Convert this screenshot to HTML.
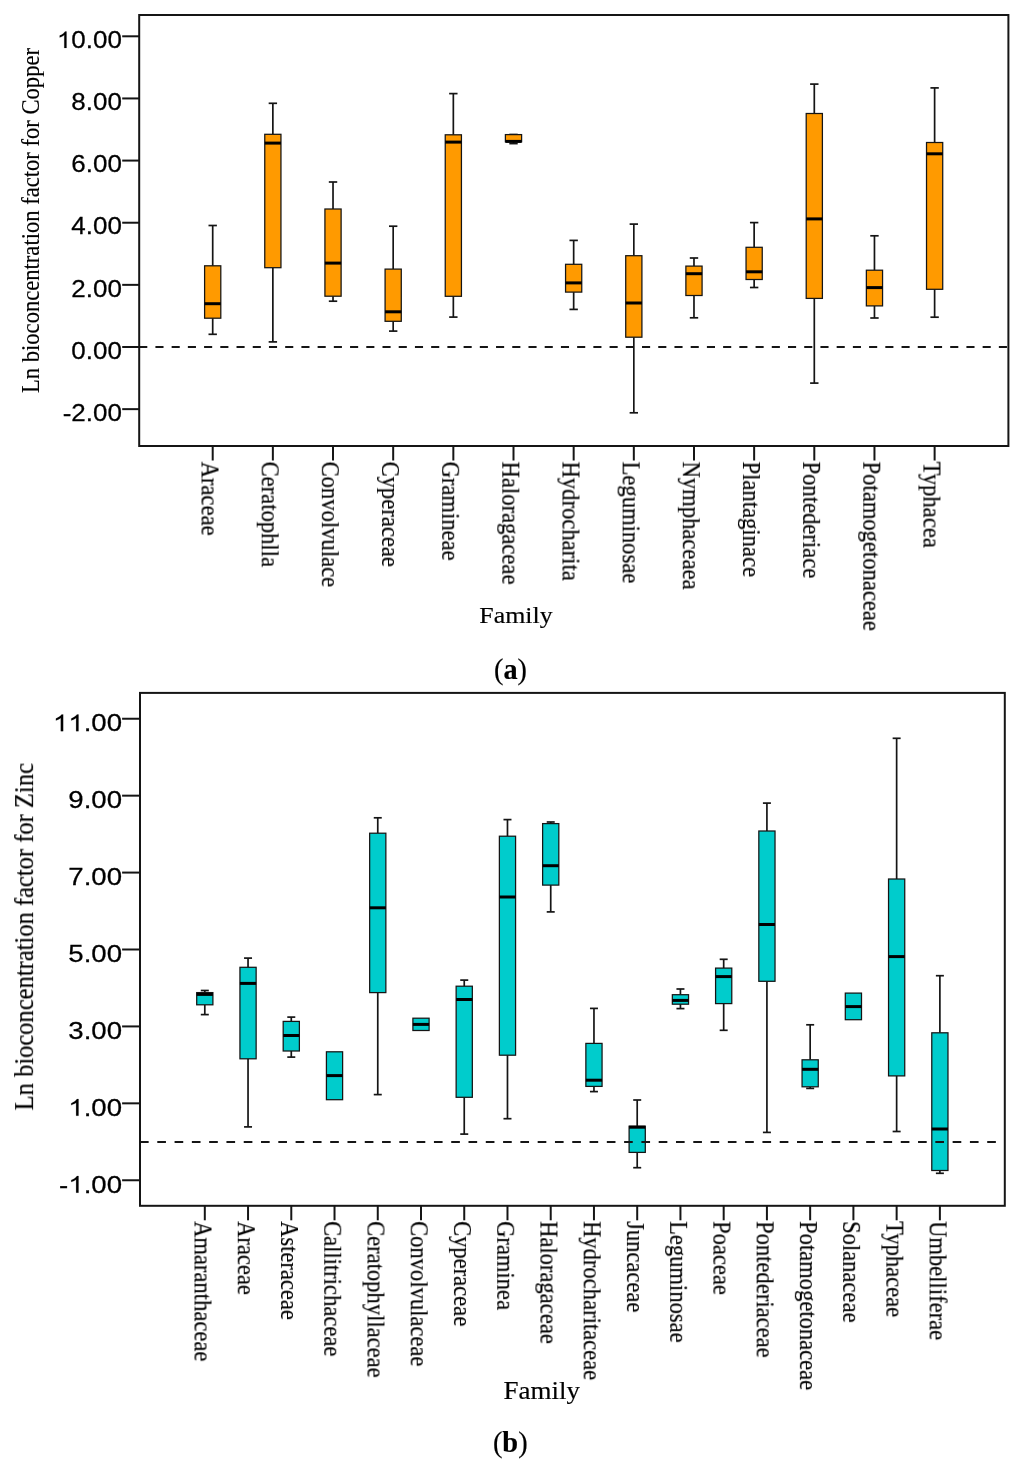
<!DOCTYPE html>
<html><head><meta charset="utf-8"><title>Box plots</title>
<style>
html,body{margin:0;padding:0;background:#fff;}
svg{display:block;}
text{will-change:transform;}
.sn{font-family:"Liberation Sans",sans-serif;font-kerning:none;fill:#000;stroke:#000;stroke-width:0.25;}
.sf{font-family:"Liberation Serif",serif;fill:#000;stroke:#000;stroke-width:0.18;}
.w{stroke:#151515;stroke-width:1.7;fill:none;}
.bx{stroke:#151515;stroke-width:1.25;}
.md{stroke:#000;stroke-width:3;}
.fr{stroke:#151515;stroke-width:2;fill:none;}
path.one{fill:#000;stroke:#000;stroke-width:12;}
.tk{stroke:#151515;stroke-width:2;}
.ds{stroke:#151515;stroke-width:2;}
</style></head>
<body>
<svg width="1024" height="1463" viewBox="0 0 1024 1463">
<rect width="1024" height="1463" fill="#fff"/>
<line x1="212.70" y1="225.50" x2="212.70" y2="265.80" class="w"/>
<line x1="208.50" y1="225.50" x2="216.90" y2="225.50" class="w"/>
<line x1="212.70" y1="318.20" x2="212.70" y2="334.30" class="w"/>
<line x1="208.50" y1="334.30" x2="216.90" y2="334.30" class="w"/>
<rect x="204.60" y="265.80" width="16.20" height="52.40" fill="#FF9A00" class="bx"/>
<line x1="204.60" y1="303.70" x2="220.80" y2="303.70" class="md"/>
<line x1="272.86" y1="103.30" x2="272.86" y2="134.30" class="w"/>
<line x1="268.66" y1="103.30" x2="277.06" y2="103.30" class="w"/>
<line x1="272.86" y1="267.70" x2="272.86" y2="341.90" class="w"/>
<line x1="268.66" y1="341.90" x2="277.06" y2="341.90" class="w"/>
<rect x="264.76" y="134.30" width="16.20" height="133.40" fill="#FF9A00" class="bx"/>
<line x1="264.76" y1="143.10" x2="280.96" y2="143.10" class="md"/>
<line x1="333.02" y1="182.00" x2="333.02" y2="209.00" class="w"/>
<line x1="328.82" y1="182.00" x2="337.22" y2="182.00" class="w"/>
<line x1="333.02" y1="296.20" x2="333.02" y2="301.20" class="w"/>
<line x1="328.82" y1="301.20" x2="337.22" y2="301.20" class="w"/>
<rect x="324.92" y="209.00" width="16.20" height="87.20" fill="#FF9A00" class="bx"/>
<line x1="324.92" y1="263.10" x2="341.12" y2="263.10" class="md"/>
<line x1="393.18" y1="226.20" x2="393.18" y2="269.10" class="w"/>
<line x1="388.98" y1="226.20" x2="397.38" y2="226.20" class="w"/>
<line x1="393.18" y1="321.30" x2="393.18" y2="331.10" class="w"/>
<line x1="388.98" y1="331.10" x2="397.38" y2="331.10" class="w"/>
<rect x="385.08" y="269.10" width="16.20" height="52.20" fill="#FF9A00" class="bx"/>
<line x1="385.08" y1="311.80" x2="401.28" y2="311.80" class="md"/>
<line x1="453.34" y1="93.60" x2="453.34" y2="134.80" class="w"/>
<line x1="449.14" y1="93.60" x2="457.54" y2="93.60" class="w"/>
<line x1="453.34" y1="296.30" x2="453.34" y2="317.10" class="w"/>
<line x1="449.14" y1="317.10" x2="457.54" y2="317.10" class="w"/>
<rect x="445.24" y="134.80" width="16.20" height="161.50" fill="#FF9A00" class="bx"/>
<line x1="445.24" y1="142.10" x2="461.44" y2="142.10" class="md"/>
<line x1="513.50" y1="134.50" x2="513.50" y2="134.60" class="w"/>
<line x1="509.30" y1="134.50" x2="517.70" y2="134.50" class="w"/>
<line x1="513.50" y1="141.80" x2="513.50" y2="143.60" class="w"/>
<line x1="509.30" y1="143.60" x2="517.70" y2="143.60" class="w"/>
<rect x="505.40" y="134.60" width="16.20" height="7.20" fill="#FF9A00" class="bx"/>
<line x1="505.40" y1="141.40" x2="521.60" y2="141.40" class="md"/>
<line x1="573.66" y1="240.40" x2="573.66" y2="264.30" class="w"/>
<line x1="569.46" y1="240.40" x2="577.86" y2="240.40" class="w"/>
<line x1="573.66" y1="292.10" x2="573.66" y2="309.40" class="w"/>
<line x1="569.46" y1="309.40" x2="577.86" y2="309.40" class="w"/>
<rect x="565.56" y="264.30" width="16.20" height="27.80" fill="#FF9A00" class="bx"/>
<line x1="565.56" y1="282.90" x2="581.76" y2="282.90" class="md"/>
<line x1="633.82" y1="224.10" x2="633.82" y2="255.70" class="w"/>
<line x1="629.62" y1="224.10" x2="638.02" y2="224.10" class="w"/>
<line x1="633.82" y1="337.20" x2="633.82" y2="412.80" class="w"/>
<line x1="629.62" y1="412.80" x2="638.02" y2="412.80" class="w"/>
<rect x="625.72" y="255.70" width="16.20" height="81.50" fill="#FF9A00" class="bx"/>
<line x1="625.72" y1="303.00" x2="641.92" y2="303.00" class="md"/>
<line x1="693.98" y1="258.00" x2="693.98" y2="266.10" class="w"/>
<line x1="689.78" y1="258.00" x2="698.18" y2="258.00" class="w"/>
<line x1="693.98" y1="295.50" x2="693.98" y2="317.80" class="w"/>
<line x1="689.78" y1="317.80" x2="698.18" y2="317.80" class="w"/>
<rect x="685.88" y="266.10" width="16.20" height="29.40" fill="#FF9A00" class="bx"/>
<line x1="685.88" y1="273.70" x2="702.08" y2="273.70" class="md"/>
<line x1="754.14" y1="222.60" x2="754.14" y2="247.30" class="w"/>
<line x1="749.94" y1="222.60" x2="758.34" y2="222.60" class="w"/>
<line x1="754.14" y1="279.50" x2="754.14" y2="287.50" class="w"/>
<line x1="749.94" y1="287.50" x2="758.34" y2="287.50" class="w"/>
<rect x="746.04" y="247.30" width="16.20" height="32.20" fill="#FF9A00" class="bx"/>
<line x1="746.04" y1="271.80" x2="762.24" y2="271.80" class="md"/>
<line x1="814.30" y1="84.10" x2="814.30" y2="113.50" class="w"/>
<line x1="810.10" y1="84.10" x2="818.50" y2="84.10" class="w"/>
<line x1="814.30" y1="298.40" x2="814.30" y2="383.10" class="w"/>
<line x1="810.10" y1="383.10" x2="818.50" y2="383.10" class="w"/>
<rect x="806.20" y="113.50" width="16.20" height="184.90" fill="#FF9A00" class="bx"/>
<line x1="806.20" y1="218.90" x2="822.40" y2="218.90" class="md"/>
<line x1="874.46" y1="235.80" x2="874.46" y2="270.20" class="w"/>
<line x1="870.26" y1="235.80" x2="878.66" y2="235.80" class="w"/>
<line x1="874.46" y1="305.90" x2="874.46" y2="318.00" class="w"/>
<line x1="870.26" y1="318.00" x2="878.66" y2="318.00" class="w"/>
<rect x="866.36" y="270.20" width="16.20" height="35.70" fill="#FF9A00" class="bx"/>
<line x1="866.36" y1="287.60" x2="882.56" y2="287.60" class="md"/>
<line x1="934.62" y1="87.90" x2="934.62" y2="142.50" class="w"/>
<line x1="930.42" y1="87.90" x2="938.82" y2="87.90" class="w"/>
<line x1="934.62" y1="289.30" x2="934.62" y2="317.20" class="w"/>
<line x1="930.42" y1="317.20" x2="938.82" y2="317.20" class="w"/>
<rect x="926.52" y="142.50" width="16.20" height="146.80" fill="#FF9A00" class="bx"/>
<line x1="926.52" y1="153.80" x2="942.72" y2="153.80" class="md"/>
<line x1="139.20" y1="346.90" x2="1008.40" y2="346.90" class="ds" stroke-dasharray="8.1 8.12"/>
<rect x="139.20" y="15.00" width="869.20" height="431.00" class="fr"/>
<line x1="122.20" y1="36.30" x2="139.20" y2="36.30" class="tk"/>
<text class="sn" text-anchor="end" font-size="23" transform="translate(121.90,48.00) scale(1.13,1)"> 0.00</text>
<path class="one" d="M763,0 L583,0 L583,1147 Q518,1085 412,1023 Q306,961 222,930 L222,1104 Q373,1175 486,1276 Q599,1377 646,1472 L763,1472 Z" transform="matrix(0.01269,0,0,-0.01123,56.86,48.00)"/>
<line x1="122.20" y1="98.44" x2="139.20" y2="98.44" class="tk"/>
<text class="sn" text-anchor="end" font-size="23" transform="translate(121.90,110.14) scale(1.13,1)">8.00</text>
<line x1="122.20" y1="160.58" x2="139.20" y2="160.58" class="tk"/>
<text class="sn" text-anchor="end" font-size="23" transform="translate(121.90,172.28) scale(1.13,1)">6.00</text>
<line x1="122.20" y1="222.72" x2="139.20" y2="222.72" class="tk"/>
<text class="sn" text-anchor="end" font-size="23" transform="translate(121.90,234.42) scale(1.13,1)">4.00</text>
<line x1="122.20" y1="284.86" x2="139.20" y2="284.86" class="tk"/>
<text class="sn" text-anchor="end" font-size="23" transform="translate(121.90,296.56) scale(1.13,1)">2.00</text>
<line x1="122.20" y1="347.00" x2="139.20" y2="347.00" class="tk"/>
<text class="sn" text-anchor="end" font-size="23" transform="translate(121.90,358.70) scale(1.13,1)">0.00</text>
<line x1="122.20" y1="409.14" x2="139.20" y2="409.14" class="tk"/>
<text class="sn" text-anchor="end" font-size="23" transform="translate(121.90,420.84) scale(1.13,1)">-2.00</text>
<line x1="212.70" y1="446.00" x2="212.70" y2="460.50" class="tk"/>
<text class="sf" font-size="22.6" transform="translate(201.80,461.60) scale(1.13,1) rotate(90)">Araceae</text>
<line x1="272.86" y1="446.00" x2="272.86" y2="460.50" class="tk"/>
<text class="sf" font-size="22.6" transform="translate(261.96,461.60) scale(1.13,1) rotate(90)">Ceratophlla</text>
<line x1="333.02" y1="446.00" x2="333.02" y2="460.50" class="tk"/>
<text class="sf" font-size="22.6" transform="translate(322.12,461.60) scale(1.13,1) rotate(90)">Convolvulace</text>
<line x1="393.18" y1="446.00" x2="393.18" y2="460.50" class="tk"/>
<text class="sf" font-size="22.6" transform="translate(382.28,461.60) scale(1.13,1) rotate(90)">Cyperaceae</text>
<line x1="453.34" y1="446.00" x2="453.34" y2="460.50" class="tk"/>
<text class="sf" font-size="22.6" transform="translate(442.44,461.60) scale(1.13,1) rotate(90)">Gramineae</text>
<line x1="513.50" y1="446.00" x2="513.50" y2="460.50" class="tk"/>
<text class="sf" font-size="22.6" transform="translate(502.60,461.60) scale(1.13,1) rotate(90)">Haloragaceae</text>
<line x1="573.66" y1="446.00" x2="573.66" y2="460.50" class="tk"/>
<text class="sf" font-size="22.6" transform="translate(562.76,461.60) scale(1.13,1) rotate(90)">Hydrocharita</text>
<line x1="633.82" y1="446.00" x2="633.82" y2="460.50" class="tk"/>
<text class="sf" font-size="22.6" transform="translate(622.92,461.60) scale(1.13,1) rotate(90)">Leguminosae</text>
<line x1="693.98" y1="446.00" x2="693.98" y2="460.50" class="tk"/>
<text class="sf" font-size="22.6" transform="translate(683.08,461.60) scale(1.13,1) rotate(90)">Nymphaceaea</text>
<line x1="754.14" y1="446.00" x2="754.14" y2="460.50" class="tk"/>
<text class="sf" font-size="22.6" transform="translate(743.24,461.60) scale(1.13,1) rotate(90)">Plantaginace</text>
<line x1="814.30" y1="446.00" x2="814.30" y2="460.50" class="tk"/>
<text class="sf" font-size="22.6" transform="translate(803.40,461.60) scale(1.13,1) rotate(90)">Pontederiace</text>
<line x1="874.46" y1="446.00" x2="874.46" y2="460.50" class="tk"/>
<text class="sf" font-size="22.6" transform="translate(863.56,461.60) scale(1.13,1) rotate(90)">Potamogetonaceae</text>
<line x1="934.62" y1="446.00" x2="934.62" y2="460.50" class="tk"/>
<text class="sf" font-size="22.6" transform="translate(923.72,461.60) scale(1.13,1) rotate(90)">Typhacea</text>
<text class="sf" font-size="22.6" transform="translate(39.30,393.00) scale(1.15,1) rotate(-90)">Ln bioconcentration factor for Copper</text>
<text class="sf" font-size="22.7" transform="translate(479.30,622.90) scale(1.14,1)">Family</text>
<line x1="204.80" y1="990.50" x2="204.80" y2="992.60" class="w"/>
<line x1="200.80" y1="990.50" x2="208.80" y2="990.50" class="w"/>
<line x1="204.80" y1="1004.80" x2="204.80" y2="1014.60" class="w"/>
<line x1="200.80" y1="1014.60" x2="208.80" y2="1014.60" class="w"/>
<rect x="196.70" y="992.60" width="16.20" height="12.20" fill="#00CCCC" class="bx"/>
<line x1="196.70" y1="994.40" x2="212.90" y2="994.40" class="md"/>
<line x1="248.04" y1="958.10" x2="248.04" y2="967.30" class="w"/>
<line x1="244.04" y1="958.10" x2="252.04" y2="958.10" class="w"/>
<line x1="248.04" y1="1058.80" x2="248.04" y2="1126.90" class="w"/>
<line x1="244.04" y1="1126.90" x2="252.04" y2="1126.90" class="w"/>
<rect x="239.94" y="967.30" width="16.20" height="91.50" fill="#00CCCC" class="bx"/>
<line x1="239.94" y1="983.40" x2="256.14" y2="983.40" class="md"/>
<line x1="291.28" y1="1017.10" x2="291.28" y2="1021.40" class="w"/>
<line x1="287.28" y1="1017.10" x2="295.28" y2="1017.10" class="w"/>
<line x1="291.28" y1="1051.00" x2="291.28" y2="1057.10" class="w"/>
<line x1="287.28" y1="1057.10" x2="295.28" y2="1057.10" class="w"/>
<rect x="283.18" y="1021.40" width="16.20" height="29.60" fill="#00CCCC" class="bx"/>
<line x1="283.18" y1="1035.50" x2="299.38" y2="1035.50" class="md"/>
<rect x="326.42" y="1051.80" width="16.20" height="47.90" fill="#00CCCC" class="bx"/>
<line x1="326.42" y1="1075.60" x2="342.62" y2="1075.60" class="md"/>
<line x1="377.76" y1="817.80" x2="377.76" y2="833.20" class="w"/>
<line x1="373.76" y1="817.80" x2="381.76" y2="817.80" class="w"/>
<line x1="377.76" y1="992.60" x2="377.76" y2="1094.60" class="w"/>
<line x1="373.76" y1="1094.60" x2="381.76" y2="1094.60" class="w"/>
<rect x="369.66" y="833.20" width="16.20" height="159.40" fill="#00CCCC" class="bx"/>
<line x1="369.66" y1="907.80" x2="385.86" y2="907.80" class="md"/>
<rect x="412.90" y="1018.20" width="16.20" height="12.30" fill="#00CCCC" class="bx"/>
<line x1="412.90" y1="1024.40" x2="429.10" y2="1024.40" class="md"/>
<line x1="464.24" y1="980.10" x2="464.24" y2="986.20" class="w"/>
<line x1="460.24" y1="980.10" x2="468.24" y2="980.10" class="w"/>
<line x1="464.24" y1="1097.30" x2="464.24" y2="1134.10" class="w"/>
<line x1="460.24" y1="1134.10" x2="468.24" y2="1134.10" class="w"/>
<rect x="456.14" y="986.20" width="16.20" height="111.10" fill="#00CCCC" class="bx"/>
<line x1="456.14" y1="999.50" x2="472.34" y2="999.50" class="md"/>
<line x1="507.48" y1="819.60" x2="507.48" y2="836.20" class="w"/>
<line x1="503.48" y1="819.60" x2="511.48" y2="819.60" class="w"/>
<line x1="507.48" y1="1055.20" x2="507.48" y2="1118.70" class="w"/>
<line x1="503.48" y1="1118.70" x2="511.48" y2="1118.70" class="w"/>
<rect x="499.38" y="836.20" width="16.20" height="219.00" fill="#00CCCC" class="bx"/>
<line x1="499.38" y1="897.00" x2="515.58" y2="897.00" class="md"/>
<line x1="550.72" y1="822.00" x2="550.72" y2="823.60" class="w"/>
<line x1="546.72" y1="822.00" x2="554.72" y2="822.00" class="w"/>
<line x1="550.72" y1="885.10" x2="550.72" y2="911.90" class="w"/>
<line x1="546.72" y1="911.90" x2="554.72" y2="911.90" class="w"/>
<rect x="542.62" y="823.60" width="16.20" height="61.50" fill="#00CCCC" class="bx"/>
<line x1="542.62" y1="865.70" x2="558.82" y2="865.70" class="md"/>
<line x1="593.96" y1="1008.40" x2="593.96" y2="1043.40" class="w"/>
<line x1="589.96" y1="1008.40" x2="597.96" y2="1008.40" class="w"/>
<line x1="593.96" y1="1086.40" x2="593.96" y2="1091.60" class="w"/>
<line x1="589.96" y1="1091.60" x2="597.96" y2="1091.60" class="w"/>
<rect x="585.86" y="1043.40" width="16.20" height="43.00" fill="#00CCCC" class="bx"/>
<line x1="585.86" y1="1080.20" x2="602.06" y2="1080.20" class="md"/>
<line x1="637.20" y1="1100.00" x2="637.20" y2="1126.20" class="w"/>
<line x1="633.20" y1="1100.00" x2="641.20" y2="1100.00" class="w"/>
<line x1="637.20" y1="1152.40" x2="637.20" y2="1167.70" class="w"/>
<line x1="633.20" y1="1167.70" x2="641.20" y2="1167.70" class="w"/>
<rect x="629.10" y="1126.20" width="16.20" height="26.20" fill="#00CCCC" class="bx"/>
<line x1="629.10" y1="1127.20" x2="645.30" y2="1127.20" class="md"/>
<line x1="680.44" y1="989.00" x2="680.44" y2="994.70" class="w"/>
<line x1="676.44" y1="989.00" x2="684.44" y2="989.00" class="w"/>
<line x1="680.44" y1="1004.20" x2="680.44" y2="1008.60" class="w"/>
<line x1="676.44" y1="1008.60" x2="684.44" y2="1008.60" class="w"/>
<rect x="672.34" y="994.70" width="16.20" height="9.50" fill="#00CCCC" class="bx"/>
<line x1="672.34" y1="1000.40" x2="688.54" y2="1000.40" class="md"/>
<line x1="723.68" y1="959.30" x2="723.68" y2="968.10" class="w"/>
<line x1="719.68" y1="959.30" x2="727.68" y2="959.30" class="w"/>
<line x1="723.68" y1="1003.60" x2="723.68" y2="1030.30" class="w"/>
<line x1="719.68" y1="1030.30" x2="727.68" y2="1030.30" class="w"/>
<rect x="715.58" y="968.10" width="16.20" height="35.50" fill="#00CCCC" class="bx"/>
<line x1="715.58" y1="976.60" x2="731.78" y2="976.60" class="md"/>
<line x1="766.92" y1="803.10" x2="766.92" y2="831.00" class="w"/>
<line x1="762.92" y1="803.10" x2="770.92" y2="803.10" class="w"/>
<line x1="766.92" y1="981.30" x2="766.92" y2="1132.40" class="w"/>
<line x1="762.92" y1="1132.40" x2="770.92" y2="1132.40" class="w"/>
<rect x="758.82" y="831.00" width="16.20" height="150.30" fill="#00CCCC" class="bx"/>
<line x1="758.82" y1="924.50" x2="775.02" y2="924.50" class="md"/>
<line x1="810.16" y1="1024.80" x2="810.16" y2="1059.80" class="w"/>
<line x1="806.16" y1="1024.80" x2="814.16" y2="1024.80" class="w"/>
<line x1="810.16" y1="1086.80" x2="810.16" y2="1088.40" class="w"/>
<line x1="806.16" y1="1088.40" x2="814.16" y2="1088.40" class="w"/>
<rect x="802.06" y="1059.80" width="16.20" height="27.00" fill="#00CCCC" class="bx"/>
<line x1="802.06" y1="1069.30" x2="818.26" y2="1069.30" class="md"/>
<rect x="845.30" y="993.10" width="16.20" height="26.60" fill="#00CCCC" class="bx"/>
<line x1="845.30" y1="1006.60" x2="861.50" y2="1006.60" class="md"/>
<line x1="896.64" y1="738.30" x2="896.64" y2="879.00" class="w"/>
<line x1="892.64" y1="738.30" x2="900.64" y2="738.30" class="w"/>
<line x1="896.64" y1="1075.90" x2="896.64" y2="1131.50" class="w"/>
<line x1="892.64" y1="1131.50" x2="900.64" y2="1131.50" class="w"/>
<rect x="888.54" y="879.00" width="16.20" height="196.90" fill="#00CCCC" class="bx"/>
<line x1="888.54" y1="956.60" x2="904.74" y2="956.60" class="md"/>
<line x1="939.88" y1="975.70" x2="939.88" y2="1032.80" class="w"/>
<line x1="935.88" y1="975.70" x2="943.88" y2="975.70" class="w"/>
<line x1="939.88" y1="1170.50" x2="939.88" y2="1173.30" class="w"/>
<line x1="935.88" y1="1173.30" x2="943.88" y2="1173.30" class="w"/>
<rect x="931.78" y="1032.80" width="16.20" height="137.70" fill="#00CCCC" class="bx"/>
<line x1="931.78" y1="1129.00" x2="947.98" y2="1129.00" class="md"/>
<line x1="140.00" y1="1141.90" x2="1004.80" y2="1141.90" class="ds" stroke-dasharray="8.65 8.64"/>
<rect x="140.00" y="692.90" width="864.80" height="512.90" class="fr"/>
<line x1="122.10" y1="718.74" x2="140.00" y2="718.74" class="tk"/>
<text class="sn" text-anchor="end" font-size="23.3" transform="translate(122.00,731.14) scale(1.185,1)">  .00</text>
<path class="one" d="M763,0 L583,0 L583,1147 Q518,1085 412,1023 Q306,961 222,930 L222,1104 Q373,1175 486,1276 Q599,1377 646,1472 L763,1472 Z" transform="matrix(0.01348,0,0,-0.01138,52.91,731.14)"/>
<path class="one" d="M763,0 L583,0 L583,1147 Q518,1085 412,1023 Q306,961 222,930 L222,1104 Q373,1175 486,1276 Q599,1377 646,1472 L763,1472 Z" transform="matrix(0.01348,0,0,-0.01138,68.26,731.14)"/>
<line x1="122.10" y1="795.66" x2="140.00" y2="795.66" class="tk"/>
<text class="sn" text-anchor="end" font-size="23.3" transform="translate(122.00,808.06) scale(1.185,1)">9.00</text>
<line x1="122.10" y1="872.58" x2="140.00" y2="872.58" class="tk"/>
<text class="sn" text-anchor="end" font-size="23.3" transform="translate(122.00,884.98) scale(1.185,1)">7.00</text>
<line x1="122.10" y1="949.50" x2="140.00" y2="949.50" class="tk"/>
<text class="sn" text-anchor="end" font-size="23.3" transform="translate(122.00,961.90) scale(1.185,1)">5.00</text>
<line x1="122.10" y1="1026.42" x2="140.00" y2="1026.42" class="tk"/>
<text class="sn" text-anchor="end" font-size="23.3" transform="translate(122.00,1038.82) scale(1.185,1)">3.00</text>
<line x1="122.10" y1="1103.34" x2="140.00" y2="1103.34" class="tk"/>
<text class="sn" text-anchor="end" font-size="23.3" transform="translate(122.00,1115.74) scale(1.185,1)"> .00</text>
<path class="one" d="M763,0 L583,0 L583,1147 Q518,1085 412,1023 Q306,961 222,930 L222,1104 Q373,1175 486,1276 Q599,1377 646,1472 L763,1472 Z" transform="matrix(0.01348,0,0,-0.01138,68.26,1115.74)"/>
<line x1="122.10" y1="1180.26" x2="140.00" y2="1180.26" class="tk"/>
<text class="sn" text-anchor="end" font-size="23.3" transform="translate(122.00,1192.66) scale(1.185,1)">- .00</text>
<path class="one" d="M763,0 L583,0 L583,1147 Q518,1085 412,1023 Q306,961 222,930 L222,1104 Q373,1175 486,1276 Q599,1377 646,1472 L763,1472 Z" transform="matrix(0.01348,0,0,-0.01138,68.26,1192.66)"/>
<line x1="204.80" y1="1205.80" x2="204.80" y2="1220.30" class="tk"/>
<text class="sf" font-size="22.55" transform="translate(195.00,1221.20) scale(1.12,1) rotate(90)">Amaranthaceae</text>
<line x1="248.04" y1="1205.80" x2="248.04" y2="1220.30" class="tk"/>
<text class="sf" font-size="22.55" transform="translate(238.24,1221.20) scale(1.12,1) rotate(90)">Araceae</text>
<line x1="291.28" y1="1205.80" x2="291.28" y2="1220.30" class="tk"/>
<text class="sf" font-size="22.55" transform="translate(281.48,1221.20) scale(1.12,1) rotate(90)">Asteraceae</text>
<line x1="334.52" y1="1205.80" x2="334.52" y2="1220.30" class="tk"/>
<text class="sf" font-size="22.55" transform="translate(324.72,1221.20) scale(1.12,1) rotate(90)">Callitrichaceae</text>
<line x1="377.76" y1="1205.80" x2="377.76" y2="1220.30" class="tk"/>
<text class="sf" font-size="22.55" transform="translate(367.96,1221.20) scale(1.12,1) rotate(90)">Ceratophyllaceae</text>
<line x1="421.00" y1="1205.80" x2="421.00" y2="1220.30" class="tk"/>
<text class="sf" font-size="22.55" transform="translate(411.20,1221.20) scale(1.12,1) rotate(90)">Convolvulaceae</text>
<line x1="464.24" y1="1205.80" x2="464.24" y2="1220.30" class="tk"/>
<text class="sf" font-size="22.55" transform="translate(454.44,1221.20) scale(1.12,1) rotate(90)">Cyperaceae</text>
<line x1="507.48" y1="1205.80" x2="507.48" y2="1220.30" class="tk"/>
<text class="sf" font-size="22.55" transform="translate(497.68,1221.20) scale(1.12,1) rotate(90)">Graminea</text>
<line x1="550.72" y1="1205.80" x2="550.72" y2="1220.30" class="tk"/>
<text class="sf" font-size="22.55" transform="translate(540.92,1221.20) scale(1.12,1) rotate(90)">Haloragaceae</text>
<line x1="593.96" y1="1205.80" x2="593.96" y2="1220.30" class="tk"/>
<text class="sf" font-size="22.55" transform="translate(584.16,1221.20) scale(1.12,1) rotate(90)">Hydrocharitaceae</text>
<line x1="637.20" y1="1205.80" x2="637.20" y2="1220.30" class="tk"/>
<text class="sf" font-size="22.55" transform="translate(627.40,1221.20) scale(1.12,1) rotate(90)">Juncaceae</text>
<line x1="680.44" y1="1205.80" x2="680.44" y2="1220.30" class="tk"/>
<text class="sf" font-size="22.55" transform="translate(670.64,1221.20) scale(1.12,1) rotate(90)">Leguminosae</text>
<line x1="723.68" y1="1205.80" x2="723.68" y2="1220.30" class="tk"/>
<text class="sf" font-size="22.55" transform="translate(713.88,1221.20) scale(1.12,1) rotate(90)">Poaceae</text>
<line x1="766.92" y1="1205.80" x2="766.92" y2="1220.30" class="tk"/>
<text class="sf" font-size="22.55" transform="translate(757.12,1221.20) scale(1.12,1) rotate(90)">Pontederiaceae</text>
<line x1="810.16" y1="1205.80" x2="810.16" y2="1220.30" class="tk"/>
<text class="sf" font-size="22.55" transform="translate(800.36,1221.20) scale(1.12,1) rotate(90)">Potamogetonaceae</text>
<line x1="853.40" y1="1205.80" x2="853.40" y2="1220.30" class="tk"/>
<text class="sf" font-size="22.55" transform="translate(843.60,1221.20) scale(1.12,1) rotate(90)">Solanaceae</text>
<line x1="896.64" y1="1205.80" x2="896.64" y2="1220.30" class="tk"/>
<text class="sf" font-size="22.55" transform="translate(886.84,1221.20) scale(1.12,1) rotate(90)">Typhaceae</text>
<line x1="939.88" y1="1205.80" x2="939.88" y2="1220.30" class="tk"/>
<text class="sf" font-size="22.55" transform="translate(930.08,1221.20) scale(1.12,1) rotate(90)">Umbelliferae</text>
<text class="sf" font-size="24.54" transform="translate(33.40,1110.40) scale(1.1,1) rotate(-90)">Ln bioconcentration factor for Zinc</text>
<text class="sf" font-size="25.6" transform="translate(503.50,1398.70) scale(1.055,1)">Family</text>
<text class="sf" font-size="29.2" transform="translate(494.0,679.3) scale(0.967,1)">(<tspan font-weight="bold">a</tspan>)</text>
<text class="sf" font-size="29.4" transform="translate(492.9,1452.2) scale(0.965,1)">(<tspan font-weight="bold">b</tspan>)</text>
</svg>
</body></html>
